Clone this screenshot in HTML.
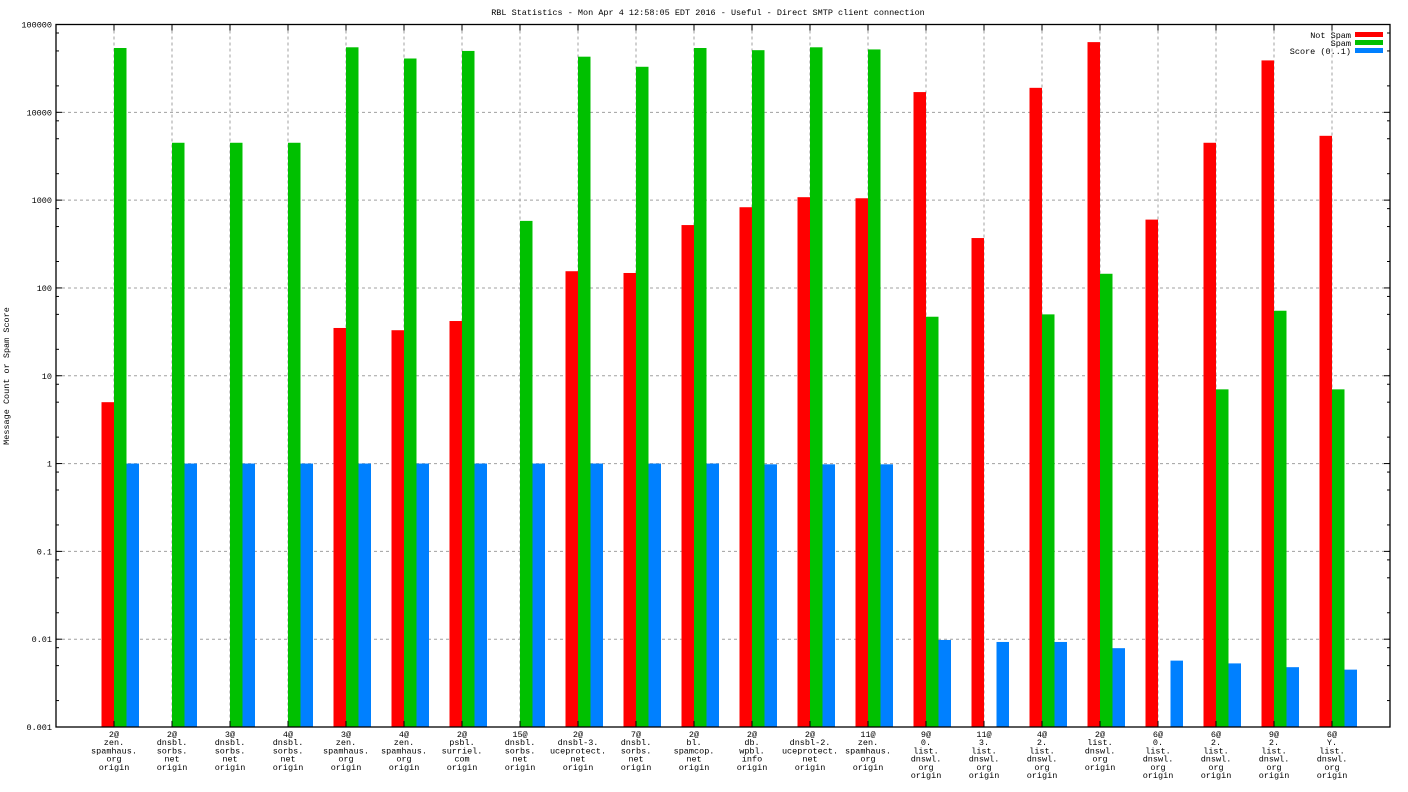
<!DOCTYPE html>
<html><head><meta charset="utf-8"><style>
body{margin:0;background:#fff}
svg{display:block;font-family:"Liberation Mono",monospace;font-size:8.5px}
</style></head><body>
<svg id="c" width="1408" height="792" xmlns="http://www.w3.org/2000/svg">
<text x="708" y="15" text-anchor="middle">RBL Statistics - Mon Apr  4 12:58:05 EDT 2016 - Useful - Direct SMTP client connection</text>
<text transform="translate(9,376) rotate(-90)" text-anchor="middle">Message Count or Spam Score</text>
<g id="grid"></g><g id="bars"></g><g id="axes"></g><g id="labels"></g>
<g>
<text x="1351" y="38" text-anchor="end">Not Spam</text>
<rect x="1355" y="32" width="28" height="5" fill="#ff0000"/>
<text x="1351" y="46" text-anchor="end">Spam</text>
<rect x="1355" y="40" width="28" height="5" fill="#00c000"/>
<text x="1351" y="54" text-anchor="end">Score (0..1)</text>
<rect x="1355" y="48" width="28" height="5" fill="#0080ff"/>
</g>
</svg>
<script>
const categories=[["2@","zen.","spamhaus.","org","origin"],["2@","dnsbl.","sorbs.","net","origin"],["3@","dnsbl.","sorbs.","net","origin"],["4@","dnsbl.","sorbs.","net","origin"],["3@","zen.","spamhaus.","org","origin"],["4@","zen.","spamhaus.","org","origin"],["2@","psbl.","surriel.","com","origin"],["15@","dnsbl.","sorbs.","net","origin"],["2@","dnsbl-3.","uceprotect.","net","origin"],["7@","dnsbl.","sorbs.","net","origin"],["2@","bl.","spamcop.","net","origin"],["2@","db.","wpbl.","info","origin"],["2@","dnsbl-2.","uceprotect.","net","origin"],["11@","zen.","spamhaus.","org","origin"],["9@","0.","list.","dnswl.","org","origin"],["11@","3.","list.","dnswl.","org","origin"],["4@","2.","list.","dnswl.","org","origin"],["2@","list.","dnswl.","org","origin"],["6@","0.","list.","dnswl.","org","origin"],["6@","2.","list.","dnswl.","org","origin"],["9@","2.","list.","dnswl.","org","origin"],["6@","Y.","list.","dnswl.","org","origin"]];
const notSpam=[5,0,0,0,35,33,42,0,155,148,520,830,1080,1050,17000,370,19000,63000,600,4500,39000,5400];
const spam=[54000,4500,4500,4500,55000,41000,50000,580,43000,33000,54000,51000,55000,52000,47,0,50,145,0,7,55,7];
const score=[1,1,1,1,1,1,1,1,1,1,1,0.98,0.98,0.98,0.0098,0.0093,0.0093,0.0079,0.0057,0.0053,0.0048,0.0045];
const yTicks=["0.001","0.01","0.1","1","10","100","1000","10000","100000"];
const NS="http://www.w3.org/2000/svg";
const L=56,R=1390,T=24.5,B=727;
const yScale=v=>B-(Math.log10(v)+3)/8*(B-T);
const xScale=i=>L+58*(i+1);
function mk(tag,attrs,parent){const e=document.createElementNS(NS,tag);for(const k in attrs)e.setAttribute(k,attrs[k]);document.getElementById(parent).appendChild(e);return e;}
yTicks.forEach((t,k)=>{const v=parseFloat(t);const y=yScale(v);
 if(k>0&&k<yTicks.length-1){const g=mk('line',{x1:L,x2:R,y1:y,y2:y,stroke:'#a0a0a0','stroke-dasharray':'3,3'},'grid');
 
 }
 const tx=mk('text',{x:L-4,y:y+3,'text-anchor':'end'},'labels');tx.textContent=t;
 
 
 [[L,L+6],[R,R-6]].forEach(p=>mk('line',{x1:p[0],x2:p[1],y1:y,y2:y,stroke:'#000'},'axes'));
 if(k<yTicks.length-1){[2,5,8].forEach(m=>{const ym=yScale(v*m);[[L,L+3],[R,R-3]].forEach(p=>mk('line',{x1:p[0],x2:p[1],y1:ym,y2:ym,stroke:'#000'},'axes'));});}
});
categories.forEach((c,i)=>{const x=xScale(i);
 const g=mk('line',{x1:x,x2:x,y1:T,y2:B,stroke:'#a0a0a0','stroke-dasharray':'3,3'},'grid');
 
 
 mk('line',{x1:x,x2:x,y1:B,y2:B-6,stroke:'#000'},'axes');mk('line',{x1:x,x2:x,y1:T,y2:T+6,stroke:'#000'},'axes');
 const tx=mk('text',{x:x,y:B+10,'text-anchor':'middle'},'labels');
 
 
 c.forEach((line,j)=>{const s=document.createElementNS(NS,'tspan');s.setAttribute('x',x);s.setAttribute('dy',j?8.2:0);s.textContent=line;tx.appendChild(s);});
 [[notSpam[i],-12.5,'#ff0000','bar-not-spam'],[spam[i],0,'#00c000','bar-spam'],[score[i],12.5,'#0080ff','bar-score']].forEach(b=>{
  if(b[0]>0){const y=yScale(b[0]);const r=mk('rect',{x:x+b[1],y:y,width:12.5,height:B-y,fill:b[2]},'bars');
  
  }
 });
});
const ax=mk('rect',{x:L,y:T,width:R-L,height:B-T,fill:'none',stroke:'#000','stroke-width':1.3},'axes');


</script>
</body></html>
